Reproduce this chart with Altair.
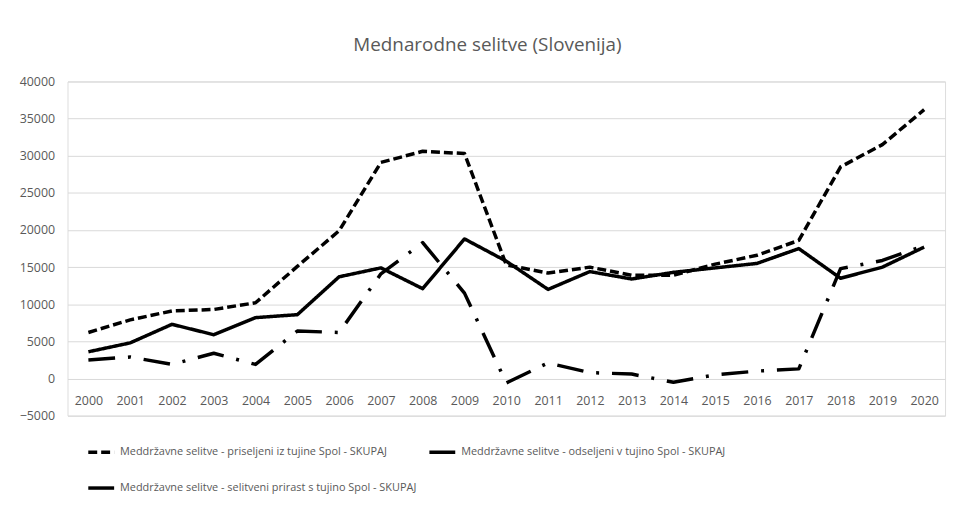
import altair as alt
import pandas as pd

years = [str(y) for y in range(2000, 2021)]

priseljeni = [6200, 7900, 9100, 9300, 10200, 15100, 19900, 29100, 30600, 30300,
              15300, 14200, 15000, 13900, 13900, 15400, 16600, 18600, 28500, 31500, 36200]
odseljeni = [3600, 4800, 7300, 5900, 8200, 8600, 13700, 14900, 12100, 18800,
             15800, 12000, 14400, 13400, 14300, 14900, 15500, 17500, 13500, 15000, 17700]
prirast = [2500, 2900, 1900, 3400, 1900, 6400, 6200, 14100, 18300, 11500,
           -600, 2100, 800, 600, -500, 500, 1000, 1300, 14800, 15900, 17900]

series_names = [
    "Meddržavne selitve - priseljeni iz tujine Spol - SKUPAJ",
    "Meddržavne selitve - odseljeni v tujino Spol - SKUPAJ",
    "Meddržavne selitve - selitveni prirast s tujino Spol - SKUPAJ",
]
y_ticks = list(range(-5000, 40001, 5000))

rows = []
for name, vals in zip(series_names, [priseljeni, odseljeni, prirast]):
    for yr, v in zip(years, vals):
        rows.append({"leto": yr, "vrednost": v, "serija": name})
df = pd.DataFrame(rows)

gray = "#595959"

legend = alt.Legend(
    title=None, orient="none", legendX=19, legendY=359, columns=2,
    direction="horizontal",
    symbolType="stroke", symbolSize=680, symbolStrokeWidth=3.5,
    symbolStrokeColor="black",
    labelFont="Open Sans",
    labelFontSize=11, labelColor=gray, labelLimit=600, labelOffset=4,
    columnPadding=4, rowPadding=14,
)

chart = (
    alt.Chart(df)
    .mark_line(strokeWidth=3.5, strokeCap="butt", strokeJoin="round")
    .encode(
        x=alt.X(
            "leto:O",
            scale=alt.Scale(type="point", padding=0.5),
            axis=alt.Axis(
                title=None, domain=False, ticks=False, grid=False,
                labelAngle=0, offset=-38, labelPadding=17,
                labelFont="Open Sans", labelFontSize=12.5, labelColor=gray,
            ),
        ),
        y=alt.Y(
            "vrednost:Q",
            scale=alt.Scale(domain=[-5000, 40000], nice=False, zero=False),
            axis=alt.Axis(
                title=None, domain=False, ticks=False, values=y_ticks,
                format="d", labelPadding=13, gridColor="#d9d9d9",
                labelFont="Open Sans", labelFontSize=12.5, labelColor=gray,
            ),
        ),
        color=alt.Color(
            "serija:N",
            sort=series_names,
            scale=alt.Scale(domain=series_names, range=["black", "black", "black"]),
            legend=legend,
        ),
        strokeDash=alt.StrokeDash(
            "serija:N",
            sort=series_names,
            scale=alt.Scale(domain=series_names, range=[[9, 4], [1, 0], [27, 13, 3, 13]]),
            legend=legend,
        ),
    )
    .properties(
        width=885,
        height=337,
        autosize=alt.AutoSizeParams(type="none"),
        padding={"left": 60, "top": 72, "right": 7, "bottom": 89},
        title=alt.TitleParams(
            "Mednarodne selitve (Slovenija)",
            font="Open Sans", fontSize=19, fontWeight="normal", color=gray,
            anchor="middle", frame="group", dx=-19, baseline="alphabetic", offset=6,
        ),
    )
    .configure_view(stroke=None)
    .configure(background="white")
)

chart.save("out.html", embed_options={"renderer": "svg", "actions": False})
